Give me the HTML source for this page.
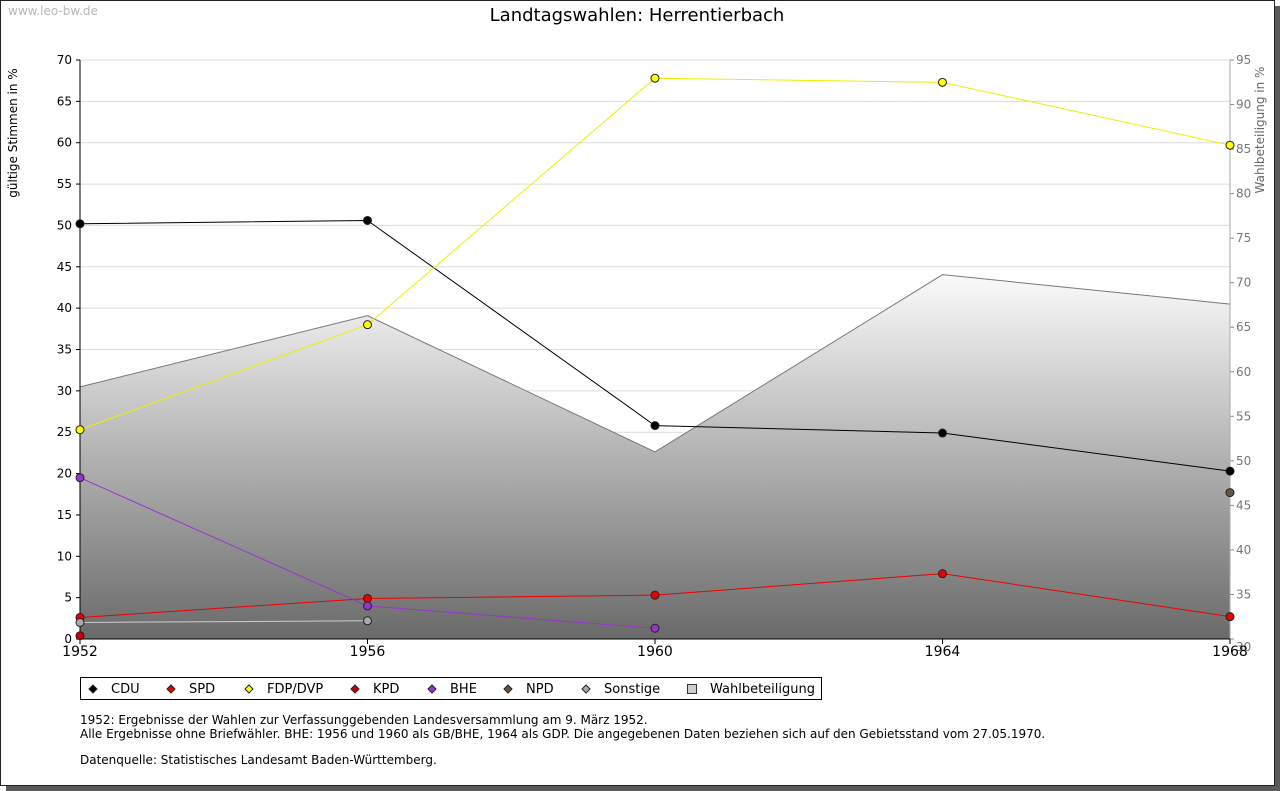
<!DOCTYPE html>
<html><head><meta charset="utf-8"><style>
body{margin:0;width:1280px;height:791px;background:#fff;overflow:hidden;font-family:"DejaVu Sans","Liberation Sans",sans-serif}
#shadow{position:absolute;left:6px;top:6px;width:1274px;height:785px;background:#5a5a5a}
#frame{position:absolute;left:0;top:0;width:1273px;height:784px;background:#fff;border:1px solid #222}
svg{position:absolute;left:0;top:0}
</style></head><body>
<div id="shadow"></div>
<div id="frame"></div>
<svg width="1280" height="791" id="chart" font-family="DejaVu Sans, Liberation Sans, sans-serif">
<defs><linearGradient id="g" x1="0" y1="275" x2="0" y2="639" gradientUnits="userSpaceOnUse"><stop offset="0" stop-color="#fafafa"/><stop offset="1" stop-color="#6a6a6a"/></linearGradient></defs>
<text x="8" y="15" font-size="12" fill="#b8b8b8">www.leo-bw.de</text>
<text x="637" y="21" font-size="18" text-anchor="middle">Landtagswahlen: Herrentierbach</text>
<text transform="translate(17,133) rotate(-90)" font-size="12" text-anchor="middle">gültige Stimmen in %</text>
<text transform="translate(1264,130) rotate(-90)" font-size="12" text-anchor="middle" fill="#666">Wahlbeteiligung in %</text>
<g id="grid"></g><g id="area"></g><g id="axes"></g><g id="lines"></g><g id="legend"></g>
<g font-size="12">
<text x="80" y="724">1952: Ergebnisse der Wahlen zur Verfassunggebenden Landesversammlung am 9. März 1952.</text>
<text x="80" y="738">Alle Ergebnisse ohne Briefwähler. BHE: 1956 und 1960 als GB/BHE, 1964 als GDP. Die angegebenen Daten beziehen sich auf den Gebietsstand vom 27.05.1970.</text>
<text x="80" y="764">Datenquelle: Statistisches Landesamt Baden-Württemberg.</text>
</g>
</svg>
<script>
const years=[1952,1956,1960,1964,1968];
const cdu=[50.2,50.6,25.8,24.9,20.3];
const spd=[2.6,4.9,5.3,7.9,2.7];
const fdp=[25.3,38.0,67.8,67.3,59.7];
const kpd=[0.4,null,null,null,null];
const bhe=[19.5,4.0,1.3,null,null];
const npd=[null,null,null,null,17.7];
const sonst=[2.0,2.2,null,null,null];
const turnout=[58.3,66.3,51.0,70.9,67.6];
const leftTicks=[0,5,10,15,20,25,30,35,40,45,50,55,60,65,70];
const rightTicks=[30,35,40,45,50,55,60,65,70,75,80,85,90,95];
const NS='http://www.w3.org/2000/svg';
const X0=80,X1=1230,Y0=639,Y1=60;
const xs=i=>X0+(years[i]-1952)/(1968-1952)*(X1-X0);
const yL=v=>Y0-v/70*(Y0-Y1);
const yR=v=>Y0-(v-30)/65*(Y0-Y1);
function mk(t,a,p){const e=document.createElementNS(NS,t);for(const k in a)e.setAttribute(k,a[k]);p.appendChild(e);return e;}
const grid=document.getElementById('grid'),axes=document.getElementById('axes'),area=document.getElementById('area'),lines=document.getElementById('lines'),leg=document.getElementById('legend');
leftTicks.forEach(v=>{
 if(v>0){const l=mk('line',{x1:X0,x2:X1,y1:yL(v),y2:yL(v),stroke:'#dcdcdc'},grid);
 
 }
 mk('line',{x1:X0-4,x2:X0,y1:yL(v),y2:yL(v),stroke:'#000'},axes);
 const t=mk('text',{x:X0-8,y:yL(v)+4,'font-size':12,'text-anchor':'end'},axes);t.textContent=v;
 
 
});
rightTicks.forEach(v=>{
 mk('line',{x1:X1,x2:X1+4,y1:yR(v),y2:yR(v),stroke:'#888'},axes);
 const t=mk('text',{x:X1+6,y:yR(v)+(v==30?12:4),'font-size':12,fill:'#777'},axes);t.textContent=v;
 
 
});
let d='M'+X0+','+Y0;years.forEach((y,i)=>d+=' L'+xs(i)+','+yR(turnout[i]));d+=' L'+X1+','+Y0+'Z';
const ar=mk('path',{d:d,fill:'url(#g)',stroke:'none'},area);


let d2='';years.forEach((y,i)=>d2+=(i?' L':'M')+xs(i)+','+yR(turnout[i]));
const tl=mk('path',{d:d2,fill:'none',stroke:'#777'},area);


mk('line',{x1:X0,x2:X0,y1:Y1,y2:Y0,stroke:'#000'},axes);
mk('line',{x1:X1,x2:X1,y1:Y1,y2:Y0,stroke:'#aaa'},axes);
mk('line',{x1:X0,x2:X1,y1:Y0,y2:Y0,stroke:'#000'},axes);
years.forEach((y,i)=>{mk('line',{x1:xs(i),x2:xs(i),y1:Y0,y2:Y0+5,stroke:'#000'},axes);
 const t=mk('text',{x:xs(i),y:Y0+17,'font-size':14,'text-anchor':'middle'},axes);t.textContent=y;
 
 });
const series=[['CDU',cdu,'#000','#000'],['SPD',spd,'#e00','#e00'],['FDP/DVP',fdp,'#ff0','#ee0'],['KPD',kpd,'#c00','#c00'],['BHE',bhe,'#93c','#93c'],['NPD',npd,'#654','#654'],['Sonstige',sonst,'#aaa','#ccc']];
series.forEach(([n,vals,fc,lc])=>{
 const g=mk('g',{},lines);
 
 
 let p='';vals.forEach((v,i)=>{if(v!=null)p+=(p?' L':'M')+xs(i)+','+yL(v);});
 mk('path',{d:p,fill:'none',stroke:lc,'stroke-width':1},g);
 vals.forEach((v,i)=>{if(v==null)return;
  const c=mk('circle',{cx:xs(i),cy:yL(v),r:4,fill:fc,stroke:'#222','stroke-width':1},g);
  
  });
});
const lb=mk('rect',{x:80.5,y:677.5,width:741,height:22,fill:'#fff',stroke:'#000'},leg);


const lx=[93,171,249,355,432,508,586,691];
series.forEach(([n,v,fc],k)=>{
 const g=mk('g',{},leg);
 
 
 mk('path',{d:`M${lx[k]-4},689 L${lx[k]},685 L${lx[k]+4},689 L${lx[k]},693Z`,fill:fc,stroke:'#222'},g);
 const t=mk('text',{x:lx[k]+18,y:693,'font-size':13},g);t.textContent=n;});
const g=mk('g',{},leg);


mk('rect',{x:687.5,y:684.5,width:9,height:9,fill:'#ccc',stroke:'#333'},g);
const t=mk('text',{x:710,y:693,'font-size':13},g);t.textContent='Wahlbeteiligung';
</script>
</body></html>
